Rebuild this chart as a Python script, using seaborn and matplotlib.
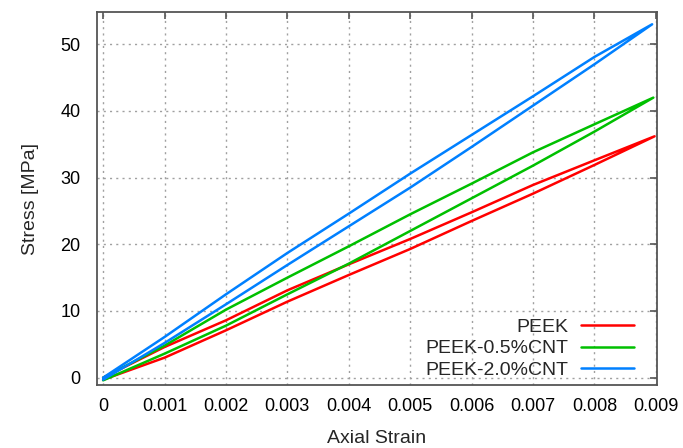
import numpy as np
import pandas as pd
import matplotlib
matplotlib.use('Agg')
import matplotlib.pyplot as plt
import seaborn as sns

strain_grid = [0, 0.001, 0.002, 0.003, 0.004, 0.005, 0.006, 0.007, 0.008]

peek_tip = (0.00898, 36.2)
peek_upper = [0, 4.6, 8.6, 13.1, 17.0, 20.8, 24.8, 28.9, 32.6]
peek_lower = [-0.3, 3.0, 7.1, 11.4, 15.4, 19.3, 23.5, 27.6, 31.9]

cnt05_tip = (0.00896, 42.0)
cnt05_upper = [0, 4.8, 10.2, 15.0, 19.7, 24.5, 29.1, 33.8, 38.0]
cnt05_lower = [-0.4, 3.6, 7.8, 12.5, 17.1, 22.0, 26.9, 31.8, 36.9]

cnt20_tip = (0.00894, 53.0)
cnt20_upper = [0, 6.1, 12.5, 18.7, 24.6, 30.6, 36.4, 42.2, 48.1]
cnt20_lower = [-0.3, 5.2, 11.0, 16.9, 22.7, 28.5, 34.6, 40.8, 47.0]

labels = ['PEEK', 'PEEK-0.5%CNT', 'PEEK-2.0%CNT']
colors = ['#ff0000', '#00c000', '#0080ff']

xticks = [0, 0.001, 0.002, 0.003, 0.004, 0.005, 0.006, 0.007, 0.008, 0.009]
xticklabels = ['0', '0.001', '0.002', '0.003', '0.004', '0.005', '0.006', '0.007', '0.008', '0.009']
yticks = [0, 10, 20, 30, 40, 50]


def loop(upper, lower, tip):
    # loading along the upper branch, unloading back along the lower one
    x = list(strain_grid) + [tip[0]] + list(strain_grid[::-1])
    y = list(upper) + [tip[1]] + list(lower[::-1])
    return x, y


rows = []
for name, (u, l, t) in zip(labels, [(peek_upper, peek_lower, peek_tip),
                                   (cnt05_upper, cnt05_lower, cnt05_tip),
                                   (cnt20_upper, cnt20_lower, cnt20_tip)]):
    xs, ys = loop(u, l, t)
    for i, (a, b) in enumerate(zip(xs, ys)):
        rows.append({'strain': a, 'stress': b, 'sample': name, 'order': i})
df = pd.DataFrame(rows)

sns.set_style('white')
plt.rcParams['font.family'] = ['Liberation Sans', 'DejaVu Sans']

fig = plt.figure(figsize=(6.83, 4.48), dpi=100)
ax = fig.add_axes([0.142, 0.1406, 0.820, 0.832])

sns.lineplot(data=df, x='strain', y='stress', hue='sample', hue_order=labels,
             palette=colors, sort=False, estimator=None, units='sample',
             linewidth=1.8, ax=ax)

ax.set_xlim(-0.0001, 0.00902)
ax.set_ylim(-1.1, 54.8)
ax.set_xticks(xticks)
ax.set_xticklabels(xticklabels)
ax.set_yticks(yticks)
ax.grid(True, color='#a0a0a0', linestyle=(0, (1.5, 3)), linewidth=1.0)
ax.tick_params(direction='in', length=5, width=1.2, colors='#555555',
               labelcolor='black', labelsize=13, top=True, right=True)
ax.tick_params(axis='x', pad=9)
ax.tick_params(axis='y', pad=12)
for s in ax.spines.values():
    s.set_color('#555555')
    s.set_linewidth(1.3)

ax.set_xlabel('Axial Strain', fontsize=14, labelpad=11)
ax.set_ylabel('Stress [MPa]', fontsize=14, labelpad=15)

ax.legend(loc='lower right', bbox_to_anchor=(0.973, -0.005), markerfirst=False,
          frameon=False, fontsize=14, handlelength=2.73, handletextpad=0.67,
          labelspacing=0.21, borderaxespad=0, title=None)

fig.savefig('out.png', dpi=100)
